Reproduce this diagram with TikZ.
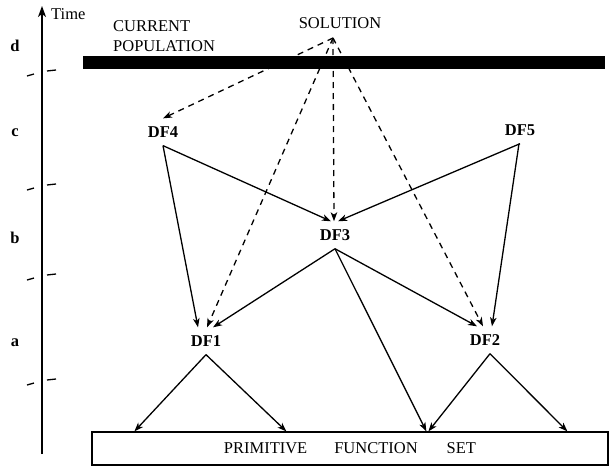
\documentclass[tikz,border=0pt]{standalone}
\usepackage{fontspec}
\setmainfont{Liberation Serif}
\usetikzlibrary{arrows.meta}
\begin{document}
\begin{tikzpicture}[x=1pt,y=-1pt,
  every node/.style={font=\fontsize{16.5}{18}\selectfont},
  dfnode/.style={inner xsep=2pt, inner ysep=8pt, font=\fontsize{16.5}{18}\selectfont\bfseries},
  lvl/.style={font=\fontsize{16.5}{18}\selectfont\bfseries},
  conn/.style={line width=1.3pt},
  arr/.style={conn, -{Stealth[length=9pt,width=6.5pt,inset=2.5pt]}},
  darr/.style={arr, dash pattern=on 6pt off 5pt},
  tick/.style={line width=1.3pt}]
\useasboundingbox (0,0) rectangle (610,466);
% time axis
\coordinate (tbot) at (42,454);
\coordinate (ttop) at (42,6);
\draw[line width=1.3pt, -{Stealth[length=11pt,width=8pt,inset=3pt]}] (tbot) -- (ttop);
\node[anchor=west, inner sep=0pt] (time) at (51,14) {Time};
\node[lvl] (ld) at (15,46) {d};
\node[lvl] (lc) at (15,133) {c};
\node[lvl] (lb) at (15,238) {b};
\node[lvl] (la) at (15,343) {a};
\foreach \y in {73,187,277,382}{
  \draw[tick] (27,\y+3) -- (34,\y+1);
  \draw[tick] (47,\y-2) -- (56,\y-3);
}
% top
\node[anchor=west, inner sep=0pt] (cur) at (113,26) {CURRENT};
\node[anchor=west, inner sep=0pt] (pop) at (113,46) {POPULATION};
\node[fill=black, inner sep=0pt, minimum width=522, minimum height=13] (bar) at (344,62.5) {};
\node (sol) at (340,23) {SOLUTION};
\coordinate (solpt) at (333,38);
% DF nodes
\node[dfnode] (DF4) at (163,132) {DF4};
\node[dfnode] (DF5) at (520,130) {DF5};
\node[dfnode] (DF3) at (335,235) {DF3};
\node[dfnode] (DF1) at (206,341) {DF1};
\node[dfnode] (DF2) at (485,340) {DF2};
% primitive set
\node[draw, line width=1.2pt, minimum width=516, minimum height=33, inner sep=0pt] (pfs) at (350,448.5)
  {PRIMITIVE\hspace{27pt}FUNCTION\hspace{29pt}SET\hspace{16pt}};
% dashed arrows
\draw[darr] (solpt) -- (DF4.north);
\draw[darr] (solpt) -- ([xshift=-1pt]DF3.north);
\draw[darr] (solpt) -- ([xshift=1pt]DF1.north);
\draw[darr] (solpt) -- ([xshift=-2pt]DF2.north);
% solid arrows
\draw[arr] (DF4.south) -- ([xshift=-4pt]DF3.north);
\draw[arr] (DF4.south) -- ([xshift=-8pt]DF1.north);
\draw[arr] (DF5.south) -- ([xshift=3pt]DF3.north);
\draw[arr] ([xshift=-1pt]DF5.south) -- ([xshift=7pt]DF2.north);
\draw[arr] (DF3.south) -- ([xshift=7pt]DF1.north);
\draw[arr] (DF3.south) -- ([xshift=-8pt]DF2.north);
\draw[arr] (DF3.south) -- ([xshift=335pt]pfs.north west);
\draw[arr] (DF1.south) -- ([xshift=43pt]pfs.north west);
\draw[arr] (DF1.south) -- ([xshift=195pt]pfs.north west);
\draw[arr] ([xshift=5pt]DF2.south) -- ([xshift=337pt]pfs.north west);
\draw[arr] ([xshift=5pt]DF2.south) -- ([xshift=476pt]pfs.north west);
\end{tikzpicture}
\end{document}
